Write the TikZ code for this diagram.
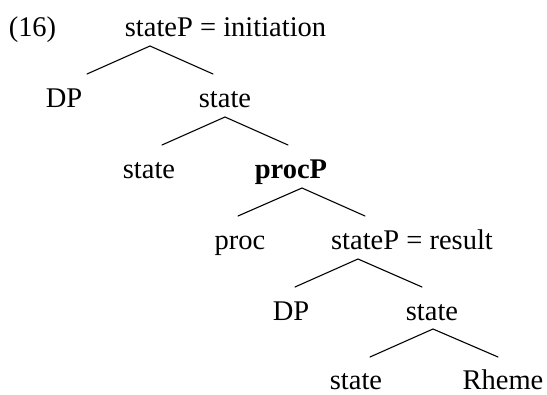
\documentclass[tikz,border=0pt]{standalone}
\usepackage{fontspec}
\setmainfont{Liberation Serif}
\begin{document}
\begin{tikzpicture}[x=1pt,y=-1pt,
  lbl/.style={anchor=base,inner sep=0pt,font=\fontsize{28.5}{34}\selectfont},
  branch/.style={line width=1.1pt,line cap=round}]
\useasboundingbox (0,0) rectangle (547,395);
% labels
\node[lbl] (ex) at (32.5,37) {(16)};
\node[lbl] (n1) at (225.5,37) {stateP = initiation};
\node[lbl] (n2) at (64,108) {DP};
\node[lbl] (n3) at (225,108) {state};
\node[lbl] (n4) at (149,179) {state};
\node[lbl] (n5) at (291,179) {\bfseries procP};
\node[lbl] (n6) at (240,250) {proc};
\node[lbl] (n7) at (412,250) {stateP = result};
\node[lbl] (n8) at (291,321) {DP};
\node[lbl] (n9) at (432,321) {state};
\node[lbl] (n10) at (356,390) {state};
\node[lbl] (n11) at (503,390) {Rheme};
% branch points
\coordinate (t1) at (150,46);  \coordinate (l1) at (87,74);  \coordinate (r1) at (213,74);
\coordinate (t2) at (225,117); \coordinate (l2) at (162,145); \coordinate (r2) at (288,145);
\coordinate (t3) at (302,188); \coordinate (l3) at (238,216); \coordinate (r3) at (365,216);
\coordinate (t4) at (358,259); \coordinate (l4) at (295,287); \coordinate (r4) at (422,287);
\coordinate (t5) at (433,329); \coordinate (l5) at (370,357); \coordinate (r5) at (498,357);
\draw[branch] (l1) -- (t1) -- (r1);
\draw[branch] (l2) -- (t2) -- (r2);
\draw[branch] (l3) -- (t3) -- (r3);
\draw[branch] (l4) -- (t4) -- (r4);
\draw[branch] (l5) -- (t5) -- (r5);
\end{tikzpicture}
\end{document}
